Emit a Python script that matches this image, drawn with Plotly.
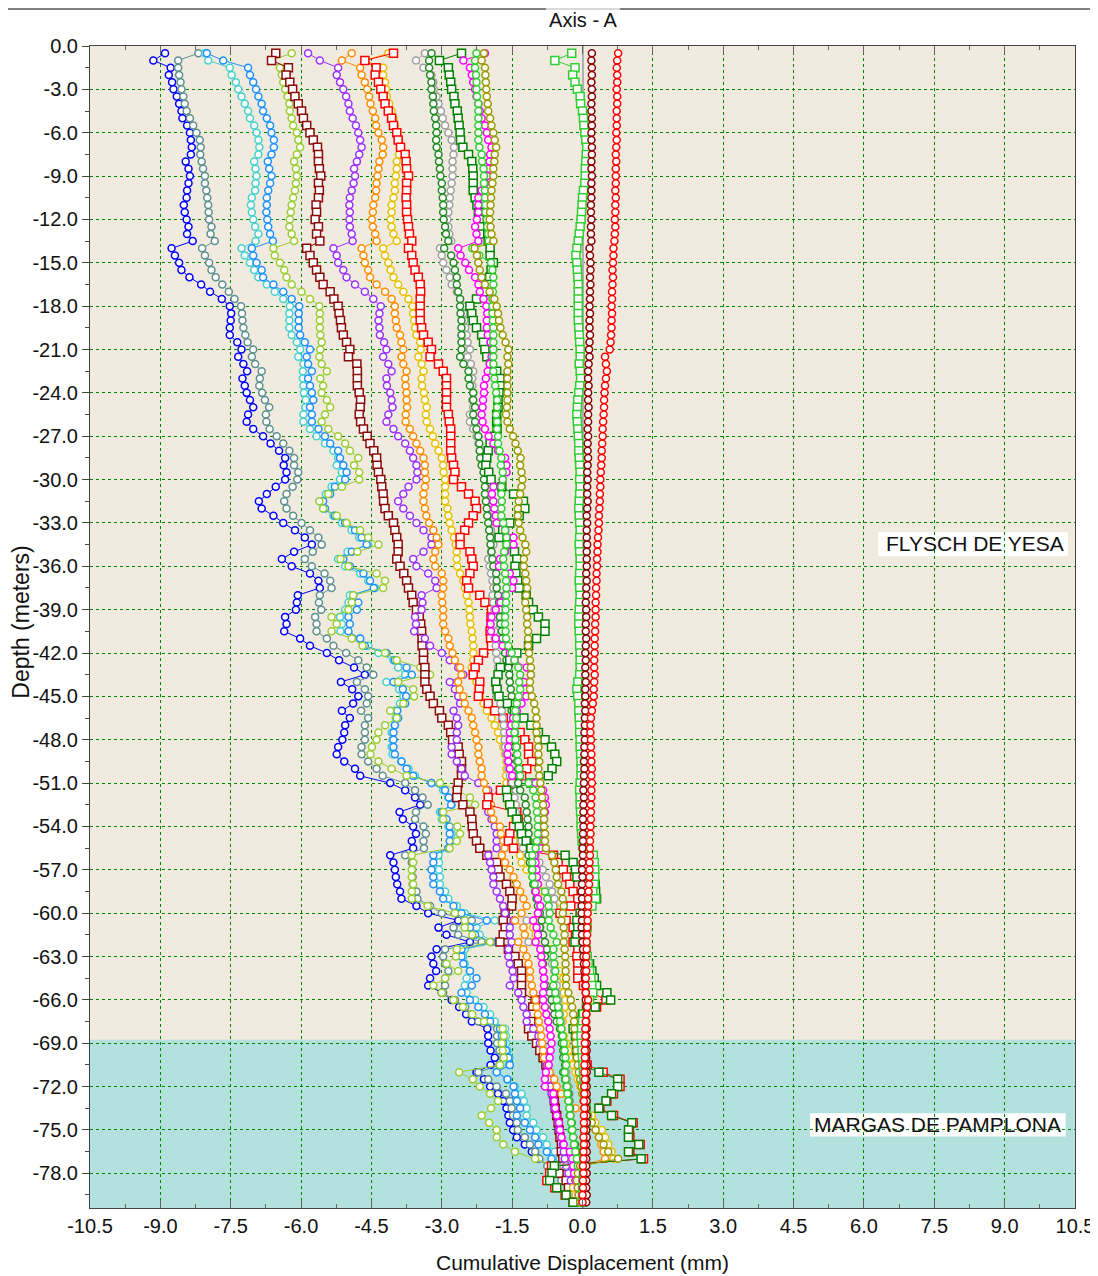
import plotly.graph_objects as go

# readings every 0.5 m down the borehole
depth = [round(-0.5 * (i + 1), 1) for i in range(160)]

s_blue = [-8.90, -9.15, -8.78, -8.82, -8.75, -8.72, -8.65, -8.60, -8.55, -8.53,
          -8.43, -8.37, -8.35, -8.33, -8.35, -8.46, -8.40, -8.37, -8.40, -8.43,
          -8.44, -8.50, -8.48, -8.44, -8.40, -8.43, -8.31, -8.76, -8.69, -8.60,
          -8.55, -8.38, -8.13, -7.94, -7.69, -7.52, -7.49, -7.50, -7.52, -7.52,
          -7.36, -7.27, -7.34, -7.23, -7.15, -7.25, -7.20, -7.16, -7.09, -7.02,
          -7.13, -7.16, -7.02, -6.81, -6.65, -6.47, -6.34, -6.37, -6.31, -6.34,
          -6.54, -6.73, -6.90, -6.84, -6.59, -6.38, -6.13, -5.92, -5.77, -6.15,
          -6.41, -6.20, -5.81, -5.63, -5.60, -6.07, -6.09, -6.11, -6.34, -6.31,
          -6.36, -6.02, -5.81, -5.45, -5.19, -4.87, -4.64, -5.15, -4.91, -4.78,
          -4.89, -5.13, -4.96, -5.06, -5.08, -5.12, -5.21, -5.24, -5.08, -4.85,
          -4.74, -4.10, -3.78, -3.57, -3.46, -3.90, -3.83, -3.61, -3.55, -3.64,
          -3.61, -4.10, -4.03, -4.00, -3.98, -3.95, -3.89, -3.86, -3.54, -3.29,
          -2.65, -3.07, -2.90, -2.40, -3.11, -3.22, -3.18, -3.12, -3.25, -3.29,
          -3.00, -2.79, -2.63, -2.48, -2.36, -2.03, -2.01, -2.01, -1.96, -1.87,
          -1.96, -2.26, -2.10, -1.97, -1.80, -1.69, -1.62, -1.58, -1.55, -1.48,
          -1.40, -1.23, -1.08, -0.94, -0.70, -0.45, -0.30, -0.15, -0.10, -0.05]

s_slate = [-8.19, -8.62, -8.62, -8.60, -8.57, -8.55, -8.51, -8.48, -8.44, -8.37,
           -8.30, -8.23, -8.16, -8.14, -8.15, -8.12, -8.09, -8.05, -8.05, -8.02,
           -8.00, -7.98, -7.97, -7.96, -7.91, -7.93, -7.84, -8.11, -8.05, -7.96,
           -7.91, -7.82, -7.68, -7.54, -7.42, -7.28, -7.26, -7.25, -7.23, -7.19,
           -7.14, -7.02, -7.05, -6.98, -6.84, -6.88, -6.89, -6.83, -6.77, -6.68,
           -6.75, -6.74, -6.67, -6.52, -6.38, -6.25, -6.15, -6.15, -6.06, -6.08,
           -6.18, -6.31, -6.36, -6.31, -6.17, -5.99, -5.81, -5.63, -5.56, -5.75,
           -5.92, -5.77, -5.50, -5.38, -5.35, -5.60, -5.62, -5.57, -5.70, -5.67,
           -5.67, -5.45, -5.31, -5.04, -4.78, -4.60, -4.46, -4.81, -4.64, -4.57,
           -4.60, -4.72, -4.57, -4.64, -4.64, -4.64, -4.71, -4.71, -4.57, -4.39,
           -4.26, -3.78, -3.57, -3.41, -3.30, -3.55, -3.57, -3.39, -3.34, -3.39,
           -3.38, -3.78, -3.64, -3.63, -3.62, -3.62, -3.54, -3.52, -3.25, -3.00,
           -2.36, -2.75, -2.65, -2.15, -2.93, -2.97, -2.93, -2.86, -2.93, -2.93,
           -2.97, -2.72, -2.50, -2.36, -2.22, -1.82, -1.82, -1.82, -1.77, -1.69,
           -1.77, -2.22, -2.01, -1.83, -1.63, -1.55, -1.51, -1.48, -1.40, -1.38,
           -1.23, -1.12, -1.01, -0.92, -0.75, -0.62, -0.45, -0.30, -0.20, -0.10]

s_cyan = [-8.05, -7.98, -7.52, -7.48, -7.39, -7.34, -7.27, -7.20, -7.13, -7.09,
          -7.00, -6.95, -6.91, -6.89, -6.91, -7.00, -6.97, -6.95, -6.97, -6.98,
          -7.05, -7.07, -7.05, -7.02, -6.98, -6.91, -6.97, -7.27, -7.20, -7.09,
          -7.00, -6.91, -6.73, -6.56, -6.38, -6.24, -6.25, -6.25, -6.25, -6.20,
          -6.09, -6.02, -6.06, -5.95, -5.96, -5.96, -5.95, -5.94, -5.90, -5.91,
          -5.95, -5.95, -5.81, -5.67, -5.49, -5.31, -5.21, -5.24, -5.13, -5.17,
          -5.35, -5.47, -5.60, -5.53, -5.31, -5.13, -4.92, -4.76, -4.57, -5.01,
          -5.21, -5.06, -4.74, -4.57, -4.42, -4.96, -4.99, -5.06, -5.17, -5.13,
          -5.16, -4.74, -4.57, -4.35, -4.03, -3.93, -3.78, -4.18, -3.91, -3.82,
          -3.89, -4.00, -3.98, -4.00, -4.07, -4.05, -4.07, -4.05, -3.86, -3.71,
          -3.57, -3.22, -2.97, -2.86, -2.79, -3.04, -3.00, -2.86, -2.79, -2.80,
          -2.86, -3.07, -3.06, -3.06, -3.04, -3.04, -2.93, -2.86, -2.68, -2.51,
          -1.87, -2.26, -2.19, -1.83, -2.51, -2.54, -2.51, -2.40, -2.47, -2.51,
          -2.47, -2.29, -2.11, -1.97, -1.87, -1.65, -1.63, -1.63, -1.60, -1.56,
          -1.57, -1.83, -1.60, -1.44, -1.30, -1.25, -1.19, -1.19, -1.05, -0.98,
          -0.84, -0.76, -0.59, -0.48, -0.35, -0.20, -0.15, -0.10, -0.08, -0.05]

s_dodger = [-8.01, -7.66, -7.13, -7.09, -7.02, -6.96, -6.91, -6.84, -6.81, -6.73,
            -6.66, -6.63, -6.58, -6.58, -6.63, -6.71, -6.68, -6.63, -6.66, -6.70,
            -6.73, -6.73, -6.74, -6.72, -6.70, -6.66, -6.60, -7.05, -7.02, -6.95,
            -6.84, -6.81, -6.59, -6.38, -6.20, -6.04, -6.05, -6.05, -6.05, -6.02,
            -5.92, -5.81, -5.88, -5.85, -5.77, -5.85, -5.81, -5.77, -5.74, -5.81,
            -5.77, -5.77, -5.63, -5.49, -5.38, -5.21, -5.17, -5.10, -5.03, -5.06,
            -5.28, -5.38, -5.53, -5.49, -5.28, -5.06, -4.85, -4.71, -4.60, -4.92,
            -5.10, -4.96, -4.67, -4.53, -4.45, -4.89, -4.78, -4.81, -4.99, -4.96,
            -4.99, -4.74, -4.64, -4.18, -4.00, -3.75, -3.64, -4.03, -3.83, -3.76,
            -3.78, -3.95, -3.93, -4.00, -4.03, -4.03, -4.03, -4.00, -3.86, -3.75,
            -3.61, -3.22, -2.93, -2.85, -2.80, -3.00, -2.90, -2.83, -2.83, -2.83,
            -2.86, -3.18, -3.18, -3.22, -3.18, -3.18, -3.04, -2.97, -2.75, -2.58,
            -2.04, -2.40, -2.29, -1.94, -2.58, -2.58, -2.54, -2.40, -2.26, -2.36,
            -2.58, -2.40, -2.22, -2.08, -1.97, -1.76, -1.72, -1.69, -1.63, -1.58,
            -1.55, -1.83, -1.60, -1.47, -1.44, -1.40, -1.33, -1.40, -1.23, -1.12,
            -1.01, -0.94, -0.76, -0.66, -0.45, -0.30, -0.20, -0.12, -0.08, -0.05]

s_ygreen = [-6.20, -6.63, -6.45, -6.41, -6.38, -6.34, -6.29, -6.25, -6.24, -6.20,
            -6.17, -6.09, -6.06, -6.02, -6.09, -6.15, -6.11, -6.09, -6.11, -6.13,
            -6.17, -6.20, -6.22, -6.24, -6.25, -6.20, -6.15, -6.59, -6.56, -6.45,
            -6.36, -6.31, -6.20, -5.99, -5.81, -5.61, -5.60, -5.60, -5.60, -5.59,
            -5.56, -5.59, -5.61, -5.56, -5.45, -5.59, -5.53, -5.56, -5.45, -5.38,
            -5.49, -5.56, -5.42, -5.21, -5.06, -4.96, -4.78, -4.87, -4.76, -4.76,
            -5.13, -5.42, -5.61, -5.53, -5.24, -5.03, -4.74, -4.57, -4.35, -4.80,
            -5.16, -4.99, -4.39, -4.21, -4.25, -4.89, -4.92, -4.99, -5.35, -5.24,
            -5.35, -4.92, -4.69, -4.21, -3.96, -3.46, -3.25, -3.93, -3.61, -3.59,
            -3.82, -4.10, -3.96, -4.21, -4.35, -4.39, -4.49, -4.52, -4.35, -4.07,
            -3.75, -3.04, -2.65, -2.40, -2.29, -2.97, -2.97, -2.67, -2.61, -2.68,
            -2.83, -3.64, -3.61, -3.64, -3.64, -3.61, -3.64, -3.64, -3.30, -2.72,
            -2.51, -2.51, -2.35, -1.97, -2.68, -2.70, -2.90, -2.65, -2.93, -3.18,
            -3.00, -2.75, -2.55, -2.35, -2.10, -1.70, -1.68, -1.72, -1.70, -1.68,
            -1.76, -2.63, -2.34, -2.19, -1.97, -1.80, -1.95, -2.15, -1.99, -1.83,
            -1.83, -1.69, -1.44, -1.01, -0.60, -0.35, -0.20, -0.15, -0.10, -0.05]

s_maroon_sq = [-6.54, -6.63, -6.27, -6.32, -6.24, -6.18, -6.13, -6.06, -5.99, -5.95,
               -5.88, -5.81, -5.74, -5.65, -5.63, -5.63, -5.61, -5.58, -5.63, -5.61,
               -5.63, -5.68, -5.67, -5.70, -5.63, -5.67, -5.60, -5.88, -5.81, -5.74,
               -5.67, -5.60, -5.53, -5.38, -5.30, -5.21, -5.19, -5.16, -5.14, -5.10,
               -5.03, -4.96, -4.99, -4.81, -4.80, -4.80, -4.80, -4.76, -4.73, -4.74,
               -4.76, -4.73, -4.67, -4.59, -4.53, -4.45, -4.39, -4.38, -4.35, -4.30,
               -4.28, -4.25, -4.24, -4.21, -4.14, -4.03, -4.00, -3.96, -3.93, -3.93,
               -3.96, -3.89, -3.81, -3.75, -3.71, -3.64, -3.61, -3.54, -3.48, -3.45,
               -3.43, -3.42, -3.42, -3.39, -3.39, -3.36, -3.36, -3.36, -3.32, -3.25,
               -3.18, -3.05, -3.00, -2.86, -2.81, -2.77, -2.65, -2.63, -2.58, -2.58,
               -2.58, -2.65, -2.67, -2.68, -2.55, -2.40, -2.36, -2.35, -2.33, -2.26,
               -2.19, -2.04, -1.83, -1.80, -1.76, -1.62, -1.55, -1.50, -1.51, -1.65,
               -1.69, -1.65, -1.69, -1.76, -1.58, -1.44, -1.37, -1.30, -1.30, -1.30,
               -1.30, -1.01, -1.06, -1.08, -1.10, -1.15, -1.08, -0.98, -0.91, -0.84,
               -0.78, -0.75, -0.69, -0.66, -0.62, -0.60, -0.58, -0.55, -0.52, -0.50,
               -0.48, -0.45, -0.45, -0.42, -0.40, -0.50, -0.35, -0.30, -0.20, -0.10]

s_purple = [-5.85, -5.60, -5.21, -5.24, -5.17, -5.10, -5.04, -4.99, -4.96, -4.90,
            -4.83, -4.78, -4.74, -4.71, -4.76, -4.81, -4.87, -4.85, -4.88, -4.92,
            -4.96, -4.97, -4.96, -4.97, -4.96, -4.92, -4.90, -5.31, -5.24, -5.21,
            -5.10, -5.03, -4.85, -4.64, -4.46, -4.30, -4.33, -4.35, -4.33, -4.32,
            -4.23, -4.18, -4.25, -4.14, -4.07, -4.18, -4.17, -4.10, -4.07, -4.05,
            -4.14, -4.18, -4.03, -3.93, -3.78, -3.68, -3.61, -3.54, -3.52, -3.54,
            -3.71, -3.82, -3.93, -3.82, -3.68, -3.54, -3.39, -3.22, -3.22, -3.39,
            -3.61, -3.54, -3.29, -3.14, -3.11, -3.43, -3.41, -3.43, -3.57, -3.55,
            -3.59, -3.36, -3.25, -3.00, -2.83, -2.65, -2.54, -2.83, -2.72, -2.65,
            -2.61, -2.75, -2.68, -2.65, -2.68, -2.68, -2.79, -2.79, -2.68, -2.58,
            -2.51, -2.22, -2.01, -2.00, -2.00, -2.01, -1.94, -1.87, -1.83, -1.83,
            -1.83, -2.01, -1.97, -1.94, -1.90, -1.90, -1.83, -1.76, -1.69, -1.65,
            -1.47, -1.55, -1.55, -1.51, -1.58, -1.58, -1.55, -1.49, -1.47, -1.55,
            -1.37, -1.30, -1.26, -1.19, -1.19, -1.05, -0.94, -0.91, -0.84, -0.80,
            -0.76, -0.76, -0.73, -0.69, -0.66, -0.62, -0.60, -0.55, -0.52, -0.50,
            -0.45, -0.42, -0.40, -0.38, -0.35, -0.30, -0.25, -0.20, -0.15, -0.10]

s_orange = [-4.92, -5.13, -4.74, -4.71, -4.64, -4.59, -4.55, -4.52, -4.47, -4.42,
            -4.40, -4.35, -4.28, -4.25, -4.26, -4.33, -4.35, -4.37, -4.39, -4.40,
            -4.42, -4.46, -4.47, -4.49, -4.47, -4.42, -4.39, -4.71, -4.67, -4.64,
            -4.57, -4.53, -4.39, -4.21, -4.07, -4.00, -4.00, -3.98, -3.96, -3.89,
            -3.86, -3.82, -3.86, -3.82, -3.75, -3.78, -3.77, -3.75, -3.75, -3.74,
            -3.77, -3.77, -3.68, -3.61, -3.54, -3.46, -3.39, -3.36, -3.36, -3.34,
            -3.36, -3.39, -3.39, -3.36, -3.33, -3.27, -3.18, -3.11, -3.07, -3.14,
            -3.18, -3.14, -3.00, -2.97, -2.97, -3.00, -2.99, -2.97, -2.97, -2.97,
            -2.93, -2.86, -2.83, -2.77, -2.72, -2.61, -2.58, -2.65, -2.62, -2.54,
            -2.51, -2.43, -2.36, -2.33, -2.29, -2.26, -2.22, -2.22, -2.19, -2.15,
            -2.15, -2.10, -2.05, -2.00, -1.95, -1.95, -1.90, -1.76, -1.74, -1.69,
            -1.66, -1.72, -1.65, -1.55, -1.47, -1.40, -1.33, -1.26, -1.19, -1.30,
            -1.44, -1.26, -1.23, -1.37, -1.26, -1.19, -1.15, -1.12, -1.12, -1.08,
            -1.05, -1.00, -0.98, -0.95, -0.93, -0.90, -0.88, -0.86, -0.84, -0.82,
            -0.73, -0.70, -0.60, -0.55, -0.45, -0.30, -0.15, 0.05, 0.18, 0.28,
            0.35, 0.40, 0.45, 0.48, -0.05, 0.00, -0.10, -0.15, -0.12, -0.08]

s_gold = [-4.14, -4.64, -4.25, -4.25, -4.21, -4.19, -4.17, -4.12, -4.07, -4.03,
          -4.00, -3.96, -3.91, -3.87, -3.91, -3.96, -3.96, -3.98, -4.00, -4.00,
          -4.03, -4.07, -4.07, -4.09, -4.07, -4.03, -3.96, -4.25, -4.21, -4.14,
          -4.09, -4.03, -3.93, -3.82, -3.71, -3.62, -3.61, -3.59, -3.57, -3.54,
          -3.46, -3.45, -3.50, -3.43, -3.39, -3.43, -3.42, -3.38, -3.36, -3.32,
          -3.34, -3.32, -3.25, -3.19, -3.14, -3.07, -3.00, -2.97, -2.96, -2.93,
          -2.93, -2.93, -2.93, -2.88, -2.86, -2.83, -2.79, -2.74, -2.70, -2.68,
          -2.68, -2.67, -2.61, -2.54, -2.51, -2.47, -2.43, -2.41, -2.40, -2.39,
          -2.36, -2.34, -2.33, -2.33, -2.33, -2.36, -2.33, -2.26, -2.22, -2.19,
          -2.11, -2.04, -1.94, -1.87, -1.80, -1.76, -1.69, -1.65, -1.62, -1.62,
          -1.63, -1.62, -1.60, -1.60, -1.58, -1.51, -1.44, -1.40, -1.44, -1.47,
          -1.40, -1.33, -1.30, -1.19, -1.05, -0.95, -0.85, -0.70, -0.60, -0.75,
          -1.00, -1.05, -1.00, -1.10, -0.69, -0.70, -0.60, -0.48, -0.41, -0.43,
          -0.40, -0.37, -0.38, -0.40, -0.42, -0.45, -0.40, -0.35, -0.30, -0.28,
          -0.20, -0.15, -0.10, -0.05, 0.00, 0.05, 0.09, 0.20, 0.27, 0.41,
          0.48, 0.55, 0.62, 0.66, 0.00, -0.10, -0.15, -0.20, -0.15, -0.10]

s_red_sq = [-4.03, -4.64, -4.40, -4.42, -4.35, -4.30, -4.25, -4.21, -4.14, -4.07,
            -4.03, -3.96, -3.93, -3.88, -3.78, -3.76, -3.75, -3.71, -3.75, -3.75,
            -3.76, -3.75, -3.75, -3.73, -3.71, -3.69, -3.64, -3.71, -3.64, -3.61,
            -3.57, -3.50, -3.46, -3.45, -3.46, -3.46, -3.46, -3.46, -3.43, -3.39,
            -3.29, -3.22, -3.25, -3.07, -2.97, -2.90, -2.90, -2.90, -2.90, -2.90,
            -2.86, -2.84, -2.81, -2.81, -2.81, -2.81, -2.79, -2.75, -2.72, -2.75,
            -2.58, -2.43, -2.29, -2.26, -2.33, -2.43, -2.51, -2.61, -2.61, -2.40,
            -2.36, -2.33, -2.40, -2.47, -2.43, -2.19, -2.08, -1.94, -1.95, -1.95,
            -1.97, -1.96, -1.94, -2.11, -2.22, -2.29, -2.33, -2.19, -2.20, -2.22,
            -2.01, -1.87, -1.69, -1.47, -1.33, -1.23, -1.15, -1.15, -1.08, -1.19,
            -1.30, -1.50, -1.75, -2.01, -2.04, -1.40, -1.37, -1.47, -1.55, -1.58,
            -1.47, -0.62, -0.52, -0.41, -0.34, -0.27, -0.20, -0.10, -0.25, -0.48,
            -0.35, -0.20, -0.15, -0.20, -0.10, -0.12, -0.10, -0.10, -0.10, 0.02,
            0.20, 0.50, 0.30, 0.00, -0.05, -0.08, -0.05, 0.00, 0.05, 0.05,
            0.10, 0.44, 0.80, 0.80, 0.66, 0.52, 0.37, 0.66, 1.08, 1.00,
            1.01, 1.23, 1.01, 1.30, -0.66, -0.70, -0.76, -0.59, -0.37, -0.20]

s_gray = [-3.36, -3.55, -3.39, -3.22, -3.18, -3.17, -3.11, -3.07, -3.02, -2.98,
          -2.93, -2.86, -2.79, -2.74, -2.75, -2.77, -2.77, -2.77, -2.79, -2.81,
          -2.83, -2.84, -2.86, -2.88, -2.86, -2.84, -2.80, -3.04, -3.00, -2.97,
          -2.90, -2.83, -2.79, -2.68, -2.61, -2.54, -2.54, -2.52, -2.50, -2.47,
          -2.45, -2.40, -2.45, -2.38, -2.33, -2.35, -2.35, -2.33, -2.35, -2.33,
          -2.40, -2.40, -2.33, -2.26, -2.22, -2.19, -2.08, -2.10, -2.05, -2.01,
          -2.00, -2.02, -2.05, -2.03, -2.00, -1.98, -1.95, -1.92, -1.90, -1.95,
          -2.01, -1.98, -1.95, -1.92, -1.90, -1.92, -1.90, -1.88, -1.88, -1.88,
          -1.88, -1.87, -1.85, -1.84, -1.82, -1.80, -1.80, -1.83, -1.85, -1.83,
          -1.75, -1.72, -1.70, -1.68, -1.67, -1.66, -1.65, -1.63, -1.60, -1.58,
          -1.55, -1.50, -1.42, -1.45, -1.42, -1.42, -1.38, -1.35, -1.33, -1.30,
          -1.27, -1.00, -0.92, -0.85, -0.78, -0.70, -0.65, -0.60, -0.62, -0.80,
          -1.19, -0.90, -0.85, -1.15, -0.80, -0.70, -0.65, -0.60, -0.60, -0.55,
          -0.55, -0.52, -0.50, -0.48, -0.46, -0.45, -0.43, -0.42, -0.40, -0.38,
          -0.36, -0.35, -0.33, -0.30, -0.28, -0.27, -0.26, -0.25, -0.24, -0.22,
          -0.20, -0.18, -0.16, -0.14, -0.55, -0.12, -0.10, -0.08, -0.06, -0.05]

s_forest = [-3.22, -3.27, -3.27, -3.25, -3.22, -3.22, -3.19, -3.18, -3.17, -3.14,
            -3.12, -3.11, -3.12, -3.11, -3.07, -3.06, -3.04, -3.03, -3.00, -3.00,
            -2.98, -2.97, -2.97, -2.96, -2.93, -2.91, -2.86, -2.95, -2.80, -2.75,
            -2.72, -2.68, -2.68, -2.65, -2.61, -2.61, -2.60, -2.58, -2.58, -2.58,
            -2.58, -2.58, -2.61, -2.54, -2.43, -2.43, -2.40, -2.33, -2.33, -2.29,
            -2.33, -2.29, -2.26, -2.22, -2.20, -2.19, -2.18, -2.15, -2.11, -2.10,
            -2.08, -2.08, -2.06, -2.04, -2.03, -2.01, -1.99, -1.97, -1.96, -1.94,
            -1.92, -1.90, -1.84, -1.83, -1.83, -1.80, -1.78, -1.76, -1.76, -1.75,
            -1.72, -1.71, -1.69, -1.65, -1.62, -1.58, -1.56, -1.55, -1.53, -1.51,
            -1.51, -1.51, -1.47, -1.47, -1.44, -1.44, -1.40, -1.40, -1.39, -1.37,
            -1.37, -1.37, -1.33, -1.23, -1.21, -1.19, -1.17, -1.15, -1.15, -1.15,
            -1.12, -1.15, -1.12, -1.08, -1.05, -1.05, -1.01, -0.98, -0.95, -0.91,
            -0.87, -0.91, -0.84, -0.80, -0.76, -0.80, -0.84, -0.84, -0.82, -0.78,
            -0.70, -0.66, -0.62, -0.60, -0.55, -0.48, -0.44, -0.44, -0.41, -0.41,
            -0.37, -0.41, -0.37, -0.34, -0.30, -0.29, -0.27, -0.27, -0.23, -0.23,
            -0.20, -0.16, -0.12, -0.09, -0.07, -0.05, -0.04, -0.02, -0.02, -0.01]

s_green_sq = [-2.58, -3.05, -2.86, -2.84, -2.81, -2.79, -2.74, -2.72, -2.67, -2.65,
              -2.63, -2.61, -2.60, -2.55, -2.43, -2.36, -2.34, -2.33, -2.33, -2.33,
              -2.29, -2.25, -2.22, -2.20, -2.19, -2.19, -2.01, -1.97, -1.97, -1.90,
              -1.95, -1.98, -2.00, -2.10, -2.26, -2.40, -2.36, -2.33, -2.26, -2.15,
              -2.11, -2.08, -2.04, -1.95, -1.83, -1.76, -1.76, -1.78, -1.80, -1.80,
              -1.83, -1.83, -1.82, -1.88, -1.97, -2.01, -2.04, -2.06, -2.00, -1.95,
              -1.72, -1.47, -1.26, -1.23, -1.35, -1.55, -1.70, -1.78, -1.60, -1.45,
              -1.40, -1.44, -1.42, -1.38, -1.35, -1.20, -1.15, -1.05, -0.94, -0.80,
              -0.80, -0.98, -1.15, -1.40, -1.55, -1.75, -1.80, -1.85, -1.82, -1.78,
              -1.60, -1.45, -1.25, -1.10, -0.94, -0.80, -0.66, -0.59, -0.55, -0.65,
              -0.73, -1.10, -1.62, -1.60, -1.55, -1.50, -1.40, -1.35, -1.30, -1.20,
              -1.10, -0.37, -0.20, -0.15, -0.12, 0.27, 0.28, 0.30, 0.10, -0.05,
              -0.12, -0.10, -0.12, -0.16, 0.05, 0.09, 0.15, 0.20, 0.25, 0.30,
              0.52, 0.60, 0.27, 0.00, -0.10, -0.20, -0.15, -0.10, -0.12, -0.05,
              0.00, 0.35, 0.75, 0.75, 0.62, 0.50, 0.35, 0.62, 1.05, 0.98,
              0.98, 1.20, 0.98, 1.25, -0.60, -0.65, -0.70, -0.55, -0.35, -0.20]

s_magenta = [-2.08, -2.54, -2.40, -2.36, -2.33, -2.29, -2.26, -2.22, -2.19, -2.15,
             -2.08, -2.04, -2.01, -1.94, -1.97, -1.98, -2.00, -2.03, -2.08, -2.15,
             -2.22, -2.22, -2.22, -2.25, -2.29, -2.26, -2.22, -2.65, -2.60, -2.50,
             -2.42, -2.29, -2.22, -2.19, -2.11, -2.05, -2.03, -2.04, -2.04, -2.02,
             -1.96, -1.90, -1.94, -1.98, -2.02, -2.06, -2.10, -2.10, -2.12, -2.13,
             -2.15, -2.13, -2.08, -2.00, -1.90, -1.80, -1.65, -1.62, -1.62, -1.70,
             -1.90, -1.93, -1.90, -1.88, -1.85, -1.83, -1.65, -1.47, -1.47, -1.65,
             -1.76, -1.78, -1.55, -1.47, -1.50, -1.65, -1.75, -1.85, -1.94, -1.96,
             -1.95, -1.85, -1.70, -1.55, -1.45, -1.19, -1.10, -1.25, -1.22, -1.20,
             -1.30, -1.40, -1.48, -1.52, -1.55, -1.55, -1.58, -1.60, -1.58, -1.55,
             -1.50, -1.00, -0.84, -0.80, -0.78, -0.80, -0.82, -0.85, -0.87, -0.88,
             -0.90, -1.02, -1.00, -0.98, -0.97, -0.95, -1.00, -0.95, -0.90, -0.95,
             -1.05, -0.98, -0.95, -1.00, -0.90, -0.88, -0.86, -0.84, -0.82, -0.82,
             -0.84, -0.84, -0.80, -0.77, -0.73, -0.70, -0.68, -0.66, -0.68, -0.70,
             -0.72, -0.78, -0.80, -0.80, -0.62, -0.60, -0.58, -0.55, -0.50, -0.48,
             -0.45, -0.40, -0.27, -0.22, -0.20, -0.18, -0.15, -0.10, -0.08, -0.05]

s_lime = [-2.26, -2.29, -2.29, -2.27, -2.26, -2.26, -2.25, -2.22, -2.22, -2.22,
          -2.22, -2.22, -2.22, -2.20, -2.15, -2.14, -2.11, -2.10, -2.10, -2.08,
          -2.08, -2.07, -2.07, -2.04, -2.03, -2.01, -2.00, -2.35, -2.20, -1.95,
          -1.92, -1.90, -1.90, -1.91, -1.92, -1.92, -1.92, -1.91, -1.90, -1.90,
          -1.90, -1.90, -1.90, -1.90, -1.90, -1.88, -1.86, -1.84, -1.82, -1.82,
          -1.84, -1.82, -1.82, -1.80, -1.80, -1.77, -1.73, -1.74, -1.70, -1.70,
          -1.73, -1.73, -1.72, -1.73, -1.73, -1.69, -1.65, -1.62, -1.62, -1.67,
          -1.69, -1.67, -1.65, -1.63, -1.62, -1.63, -1.63, -1.64, -1.65, -1.65,
          -1.64, -1.63, -1.58, -1.51, -1.45, -1.37, -1.33, -1.35, -1.33, -1.36,
          -1.40, -1.43, -1.41, -1.43, -1.45, -1.43, -1.41, -1.39, -1.37, -1.35,
          -1.33, -1.15, -1.05, -1.00, -0.98, -0.97, -0.95, -0.95, -0.95, -0.97,
          -1.00, -1.07, -1.07, -1.07, -1.07, -1.02, -0.80, -0.75, -0.72, -0.70,
          -0.72, -0.68, -0.62, -0.55, -0.62, -0.62, -0.60, -0.58, -0.60, -0.62,
          -0.58, -0.55, -0.52, -0.50, -0.48, -0.45, -0.42, -0.40, -0.38, -0.36,
          -0.35, -0.38, -0.36, -0.33, -0.32, -0.30, -0.28, -0.26, -0.24, -0.22,
          -0.20, -0.18, -0.15, -0.12, -0.10, -0.08, -0.06, -0.05, -0.03, -0.02]

s_olive = [-2.10, -2.15, -2.08, -2.07, -2.06, -2.05, -2.04, -2.02, -2.01, -1.97,
           -1.94, -1.90, -1.87, -1.84, -1.87, -1.88, -1.90, -1.90, -1.92, -1.94,
           -1.95, -1.96, -1.97, -1.98, -1.96, -1.94, -1.90, -2.30, -2.25, -2.22,
           -2.19, -2.15, -2.08, -1.98, -1.88, -1.83, -1.80, -1.78, -1.75, -1.70,
           -1.64, -1.58, -1.60, -1.58, -1.60, -1.60, -1.60, -1.60, -1.60, -1.61,
           -1.63, -1.60, -1.55, -1.48, -1.43, -1.38, -1.32, -1.33, -1.30, -1.28,
           -1.30, -1.33, -1.36, -1.38, -1.38, -1.36, -1.33, -1.28, -1.22, -1.20,
           -1.25, -1.25, -1.22, -1.20, -1.18, -1.20, -1.22, -1.20, -1.18, -1.18,
           -1.16, -1.16, -1.16, -1.14, -1.12, -1.10, -1.10, -1.12, -1.12, -1.08,
           -1.03, -1.00, -0.98, -0.98, -0.98, -0.96, -0.94, -0.94, -0.92, -0.94,
           -0.92, -0.90, -0.88, -0.86, -0.84, -0.82, -0.82, -0.82, -0.80, -0.80,
           -0.78, -0.65, -0.60, -0.57, -0.55, -0.52, -0.45, -0.42, -0.40, -0.42,
           -0.45, -0.40, -0.38, -0.40, -0.38, -0.37, -0.36, -0.36, -0.35, -0.35,
           -0.30, -0.25, -0.22, -0.20, -0.18, -0.17, -0.15, -0.15, -0.13, -0.12,
           -0.10, -0.08, -0.05, -0.02, 0.00, 0.02, 0.05, 0.12, 0.20, 0.28,
           0.35, 0.45, 0.55, 0.76, -0.05, -0.10, -0.12, -0.10, -0.08, -0.05]

s_lime_sq = [-0.23, -0.59, -0.16, -0.21, -0.16, -0.11, -0.05, -0.04, 0.00, 0.02,
             0.03, 0.05, 0.07, 0.09, 0.08, 0.07, 0.06, 0.06, 0.05, 0.02,
             0.00, -0.01, -0.02, -0.03, -0.05, -0.07, -0.09, -0.12, -0.14, -0.12,
             -0.11, -0.10, -0.09, -0.09, -0.09, -0.09, -0.09, -0.09, -0.08, -0.07,
             -0.06, -0.05, -0.05, -0.07, -0.05, -0.04, -0.06, -0.08, -0.10, -0.11,
             -0.12, -0.11, -0.10, -0.09, -0.08, -0.08, -0.07, -0.06, -0.05, -0.06,
             -0.05, -0.06, -0.07, -0.08, -0.07, -0.06, -0.05, -0.06, -0.07, -0.06,
             -0.05, -0.05, -0.06, -0.07, -0.06, -0.05, -0.06, -0.07, -0.08, -0.08,
             -0.07, -0.06, -0.06, -0.05, -0.05, -0.05, -0.06, -0.10, -0.12, -0.10,
             -0.08, -0.08, -0.07, -0.06, -0.06, -0.05, -0.05, -0.04, -0.03, -0.03,
             -0.03, -0.05, -0.06, -0.05, -0.05, -0.04, -0.03, -0.03, -0.02, -0.01,
             0.02, 0.23, 0.25, 0.26, 0.26, 0.25, 0.22, 0.28, 0.20, 0.05,
             0.02, 0.10, 0.06, 0.00, 0.08, 0.10, 0.12, 0.15, 0.18, 0.20,
             0.22, 0.15, 0.08, 0.02, 0.00, -0.02, -0.03, -0.02, -0.01, 0.00,
             0.01, 0.02, 0.03, 0.05, 0.06, 0.07, 0.08, 0.08, 0.07, 0.06,
             0.05, 0.05, 0.04, 0.03, 0.02, 0.02, 0.01, 0.00, 0.00, 0.00]

s_darkred = [0.20, 0.19, 0.20, 0.20, 0.19, 0.20, 0.20, 0.19, 0.19, 0.20,
             0.20, 0.19, 0.19, 0.20, 0.20, 0.19, 0.19, 0.20, 0.19, 0.19,
             0.19, 0.18, 0.18, 0.19, 0.18, 0.18, 0.19, 0.15, 0.16, 0.17,
             0.17, 0.16, 0.17, 0.16, 0.16, 0.15, 0.16, 0.15, 0.15, 0.16,
             0.15, 0.14, 0.15, 0.13, 0.12, 0.12, 0.13, 0.12, 0.12, 0.13,
             0.12, 0.12, 0.11, 0.12, 0.11, 0.11, 0.12, 0.11, 0.10, 0.11,
             0.10, 0.10, 0.11, 0.10, 0.09, 0.10, 0.09, 0.09, 0.10, 0.09,
             0.09, 0.09, 0.08, 0.09, 0.08, 0.08, 0.07, 0.08, 0.08, 0.07,
             0.07, 0.08, 0.07, 0.06, 0.07, 0.06, 0.06, 0.07, 0.06, 0.06,
             0.05, 0.06, 0.05, 0.05, 0.04, 0.05, 0.04, 0.04, 0.03, 0.04,
             0.03, 0.03, 0.02, 0.03, 0.02, 0.02, 0.01, 0.02, 0.01, 0.01,
             0.00, 0.01, 0.00, -0.01, 0.00, -0.01, -0.02, -0.01, -0.02, -0.02,
             -0.01, -0.02, -0.01, 0.00, 0.01, 0.02, 0.03, 0.04, 0.05, 0.06,
             0.07, 0.07, 0.08, 0.08, 0.08, 0.09, 0.08, 0.09, 0.09, 0.08,
             0.09, 0.09, 0.08, 0.09, 0.09, 0.09, 0.08, 0.09, 0.09, 0.08,
             0.09, 0.08, 0.09, 0.08, 0.08, 0.09, 0.08, 0.08, 0.09, 0.08]

s_red = [0.76, 0.74, 0.73, 0.74, 0.74, 0.73, 0.74, 0.74, 0.73, 0.73,
         0.73, 0.72, 0.73, 0.72, 0.71, 0.72, 0.71, 0.71, 0.71, 0.70,
         0.71, 0.70, 0.70, 0.69, 0.70, 0.69, 0.68, 0.66, 0.66, 0.65,
         0.64, 0.65, 0.64, 0.63, 0.63, 0.62, 0.63, 0.62, 0.62, 0.61,
         0.60, 0.58, 0.48, 0.50, 0.52, 0.50, 0.48, 0.47, 0.46, 0.46,
         0.45, 0.44, 0.43, 0.43, 0.42, 0.41, 0.41, 0.40, 0.39, 0.38,
         0.38, 0.37, 0.37, 0.36, 0.35, 0.35, 0.34, 0.33, 0.32, 0.32,
         0.31, 0.31, 0.30, 0.30, 0.29, 0.29, 0.28, 0.28, 0.28, 0.27,
         0.27, 0.26, 0.26, 0.26, 0.25, 0.25, 0.26, 0.25, 0.24, 0.24,
         0.22, 0.20, 0.18, 0.17, 0.17, 0.18, 0.18, 0.19, 0.19, 0.20,
         0.19, 0.20, 0.19, 0.19, 0.18, 0.18, 0.18, 0.17, 0.17, 0.16,
         0.16, 0.16, 0.15, 0.15, 0.15, 0.14, 0.13, 0.12, 0.12, 0.11,
         0.11, 0.10, 0.10, 0.09, 0.09, 0.08, 0.08, 0.08, 0.07, 0.07,
         0.07, 0.12, 0.10, 0.08, 0.07, 0.06, 0.06, 0.05, 0.05, 0.05,
         0.04, 0.04, 0.05, 0.04, 0.04, 0.03, 0.04, 0.03, 0.03, 0.03,
         0.02, 0.03, 0.02, 0.02, 0.01, 0.02, 0.01, 0.01, 0.00, 0.00]

series = [
    (s_blue, "#0000FF", "circle"),
    (s_slate, "#5E8F8F", "circle"),
    (s_cyan, "#48D1CC", "circle"),
    (s_dodger, "#1E90FF", "circle"),
    (s_ygreen, "#9ACD32", "circle"),
    (s_maroon_sq, "#8B0A0A", "square"),
    (s_purple, "#9B30FF", "circle"),
    (s_orange, "#FF8C00", "circle"),
    (s_gold, "#E8C000", "circle"),
    (s_red_sq, "#FF0000", "square"),
    (s_gray, "#A0A0A0", "circle"),
    (s_forest, "#228B22", "circle"),
    (s_green_sq, "#008000", "square"),
    (s_magenta, "#FF00FF", "circle"),
    (s_lime, "#32CD32", "circle"),
    (s_olive, "#999900", "circle"),
    (s_lime_sq, "#32CD32", "square"),
    (s_darkred, "#8B0000", "circle"),
    (s_red, "#FF0000", "circle"),
]

x_ticks = [-10.5, -9.0, -7.5, -6.0, -4.5, -3.0, -1.5, 0.0, 1.5, 3.0, 4.5, 6.0, 7.5, 9.0, 10.5]
y_ticks = [0.0, -3.0, -6.0, -9.0, -12.0, -15.0, -18.0, -21.0, -24.0, -27.0, -30.0, -33.0, -36.0, -39.0,
           -42.0, -45.0, -48.0, -51.0, -54.0, -57.0, -60.0, -63.0, -66.0, -69.0, -72.0, -75.0, -78.0]

for vals, _, _ in series:
    assert len(vals) == len(depth), len(vals)

font = "Liberation Sans, Arial, sans-serif"

fig = go.Figure()
for vals, color, sym in series:
    fig.add_trace(go.Scatter(
        x=vals, y=depth, mode="lines+markers",
        line=dict(color=color, width=1),
        marker=dict(symbol=sym, size=7 if sym == "circle" else 8, color="white",
                    line=dict(color=color, width=1.5)),
        showlegend=False, hoverinfo="x+y"))

# geological units
fig.add_shape(type="rect", xref="paper", yref="y", x0=0, x1=1, y0=-80.4, y1=-68.75,
              fillcolor="#B4E0DD", line=dict(width=0), layer="below")
fig.add_shape(type="rect", xref="x", yref="y", x0=6.3, x1=10.35, y0=-33.65, y1=-35.3,
              fillcolor="white", line=dict(width=0), layer="below")
fig.add_shape(type="rect", xref="x", yref="y", x0=4.85, x1=10.3, y0=-73.85, y1=-75.45,
              fillcolor="white", line=dict(width=0), layer="below")
fig.add_annotation(x=10.3, y=-34.45, xanchor="right", text="FLYSCH DE YESA", showarrow=False,
                   font=dict(family=font, size=21, color="#111"))
fig.add_annotation(x=10.25, y=-74.65, xanchor="right", text="MARGAS DE PAMPLONA", showarrow=False,
                   font=dict(family=font, size=21, color="#111"))

# axis titles placed by hand
fig.add_annotation(xref="paper", yref="paper", x=0.4995, y=-0.0465, yanchor="middle",
                   text="Cumulative Displacement (mm)", showarrow=False,
                   font=dict(family=font, size=21, color="#111"))
fig.add_annotation(xref="paper", yref="paper", x=-0.0704, y=0.5043, xanchor="center",
                   textangle=-90, text="Depth (meters)", showarrow=False,
                   font=dict(family=font, size=23, color="#111"))

# frame line above the title
for x0, x1, c in [(-0.0832, 0.463, "#555"), (0.463, 0.538, "#CCC"), (0.538, 1.0152, "#555")]:
    fig.add_shape(type="line", xref="paper", yref="paper", x0=x0, x1=x1, y0=1.0318, y1=1.0318,
                  line=dict(color=c, width=1.5))

# page adds 8 px body margin, so figure is smaller and margins shifted
fig.update_layout(
    width=1090, height=1268,
    margin=dict(l=82, r=23, t=38, b=68),
    paper_bgcolor="white", plot_bgcolor="#F0EADF",
    font=dict(family=font, size=20, color="#111"),
    title=dict(text="Axis - A", x=0.5275, xanchor="center", y=1 - 12 / 1268, yanchor="middle",
               font=dict(family=font, size=20, color="#111")),
)
fig.update_xaxes(
    range=[-10.5, 10.5], tickmode="array", tickvals=x_ticks,
    ticktext=[f"{v:.1f}" for v in x_ticks],
    ticks="inside", ticklen=8, tickcolor="#666", mirror="ticks",
    showline=True, linecolor="#444", linewidth=1,
    minor=dict(tick0=-10.5, dtick=0.75, ticks="inside", ticklen=4, tickcolor="#666", showgrid=False),
    showgrid=True, gridcolor="#008800", griddash="dot", gridwidth=1.2,
    zeroline=True, zerolinecolor="#B0B0B0", zerolinewidth=1.5,
    tickfont=dict(size=20), automargin=False, ticklabeloverflow="allow",
)
fig.update_yaxes(
    range=[-80.4, 0], tickmode="array", tickvals=y_ticks,
    ticktext=[f"{v:.1f}" for v in y_ticks],
    ticks="outside", ticklen=7, tickcolor="#444", mirror=True,
    showline=True, linecolor="#444", linewidth=1,
    minor=dict(tick0=0, dtick=1.5, ticks="outside", ticklen=4, tickcolor="#444", showgrid=False),
    showgrid=True, gridcolor="#008800", griddash="dot", gridwidth=1.2,
    zeroline=False,
    tickfont=dict(size=20), automargin=False,
)

fig.write_html("out.html")
